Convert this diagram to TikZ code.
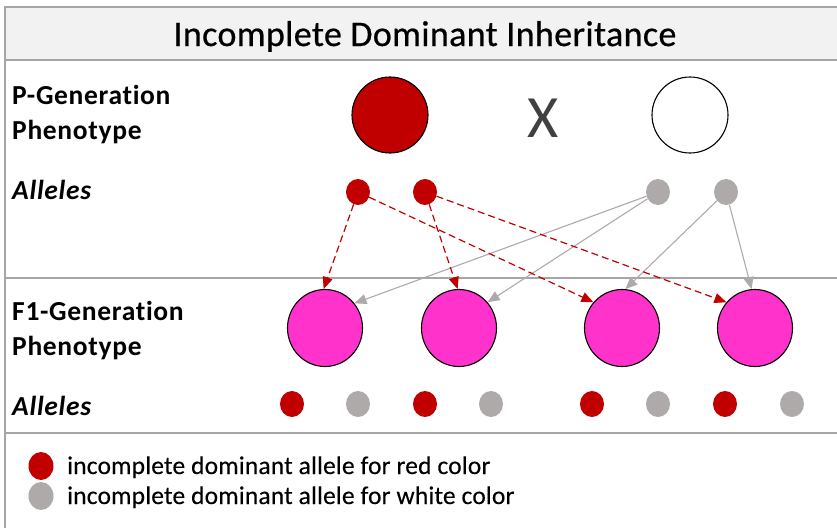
\documentclass[tikz,border=0pt]{standalone}
\usepackage{fontspec}
\setmainfont{Carlito}[Ligatures=NoCommon]
\newfontfamily\titlefont[Ligatures=NoCommon, LetterSpace=1.0, FakeBold=0.6]{Carlito}
\newfontfamily\labelfont[Ligatures=NoCommon, LetterSpace=2.5]{Carlito}
\newfontfamily\legendfont[Ligatures=NoCommon, LetterSpace=0.7, FakeBold=0.3]{Carlito}
\usetikzlibrary{arrows.meta, shapes.geometric}
\definecolor{allelered}{HTML}{C00000}
\definecolor{allelegray}{HTML}{AEAAAA}
\definecolor{hybridpink}{HTML}{FF33CC}
\definecolor{framegray}{HTML}{A6A6A6}
\definecolor{bandgray}{HTML}{F2F2F2}
\definecolor{crossgray}{HTML}{404040}
\tikzset{
  frameline/.style={draw=framegray, line width=1.6pt},
  rowlabel/.style={anchor=base west, inner sep=0pt, font=\labelfont\fontsize{27.5}{32}\selectfont\bfseries},
  allelelabel/.style={rowlabel, font=\labelfont\fontsize{27.5}{32}\selectfont\bfseries\itshape},
  legendtext/.style={anchor=base west, inner sep=0pt, font=\legendfont\fontsize{25.5}{30}\selectfont},
  parent/.style={circle, draw=black, line width=1.1pt, minimum size=76pt, inner sep=0pt},
  hybrid/.style={ellipse, draw=black, line width=1.1pt, minimum width=75pt, minimum height=77pt, inner sep=0pt, fill=hybridpink},
  redallele/.style={ellipse, fill=allelered, minimum width=24pt, minimum height=26pt, inner sep=0pt},
  grayallele/.style={ellipse, fill=allelegray, minimum width=24pt, minimum height=26pt, inner sep=0pt},
  redarrow/.style={draw=allelered, line width=1.2pt, dash pattern=on 7pt off 4pt, -{Triangle[length=12pt,width=10pt]}},
  grayarrow/.style={draw=allelegray, line width=1.1pt, -{Triangle[length=12pt,width=10pt]}},
}
\begin{document}
\begin{tikzpicture}[x=1pt,y=-1pt]
\useasboundingbox (0,0) rectangle (837,528);
% frame and title band
\fill[bandgray] (5,7) rectangle (837,60);
\draw[frameline] (837,7) -- (5,7) -- (5,528);
\draw[frameline] (5,60) -- (837,60);
\draw[frameline] (5,278) -- (837,278);
\draw[frameline] (5,433) -- (837,433);
\node[anchor=base, inner sep=0pt, font=\titlefont\fontsize{36}{42}\selectfont] (title) at (425,46) {Incomplete Dominant Inheritance};

% row labels
\node[rowlabel] (pgen) at (12,104) {P-Generation};
\node[rowlabel] (pphen) at (12,139) {Phenotype};
\node[allelelabel] (palle) at (12,199) {Alleles};
\node[rowlabel] (fgen) at (12,320) {F1-Generation};
\node[rowlabel] (fphen) at (12,355) {Phenotype};
\node[allelelabel] (falle) at (12,415) {Alleles};

% parent generation
\node[parent, fill=allelered] (pred) at (390,115) {};
\node[inner sep=0pt, text=crossgray, font=\fontsize{60}{60}\selectfont] (cross) at (543,118) {X};
\node[parent, fill=white] (pwhite) at (690,115) {};
\node[redallele] (r1) at (358,192) {};
\node[redallele] (r2) at (425,192) {};
\node[grayallele] (g1) at (658,192) {};
\node[grayallele] (g2) at (726,192) {};

% F1 generation
\node[hybrid] (f1) at (325,328) {};
\node[hybrid] (f2) at (459,328) {};
\node[hybrid] (f3) at (622,328) {};
\node[hybrid] (f4) at (755,328) {};

\node[redallele] (f1r) at (292,404) {};
\node[grayallele] (f1g) at (358,404) {};
\node[redallele] (f2r) at (425,404) {};
\node[grayallele] (f2g) at (491,404) {};
\node[redallele] (f3r) at (592,404) {};
\node[grayallele] (f3g) at (658,404) {};
\node[redallele] (f4r) at (725,404) {};
\node[grayallele] (f4g) at (792,404) {};

% allele transmission
\draw[grayarrow] (g1) -- (f1.40);
\draw[grayarrow] (g1) -- (f2.42);
\draw[grayarrow] (g2) -- (f3.85);
\draw[grayarrow] (g2) -- (f4.95);
\draw[redarrow] (r1) -- (f1.92);
\draw[redarrow] (r1) -- (f3.138);
\draw[redarrow] (r2) -- (f2.92);
\draw[redarrow] (r2) -- (f4.138);

% legend
\node[redallele, minimum width=25pt, minimum height=28pt] (keyred) at (41,466) {};
\node[grayallele, minimum width=25pt, minimum height=28pt] (keygray) at (41,496) {};
\node[legendtext] (keyredtext) at (67,474) {incomplete dominant allele for red color};
\node[legendtext] (keygraytext) at (67,504) {incomplete dominant allele for white color};
\end{tikzpicture}
\end{document}
